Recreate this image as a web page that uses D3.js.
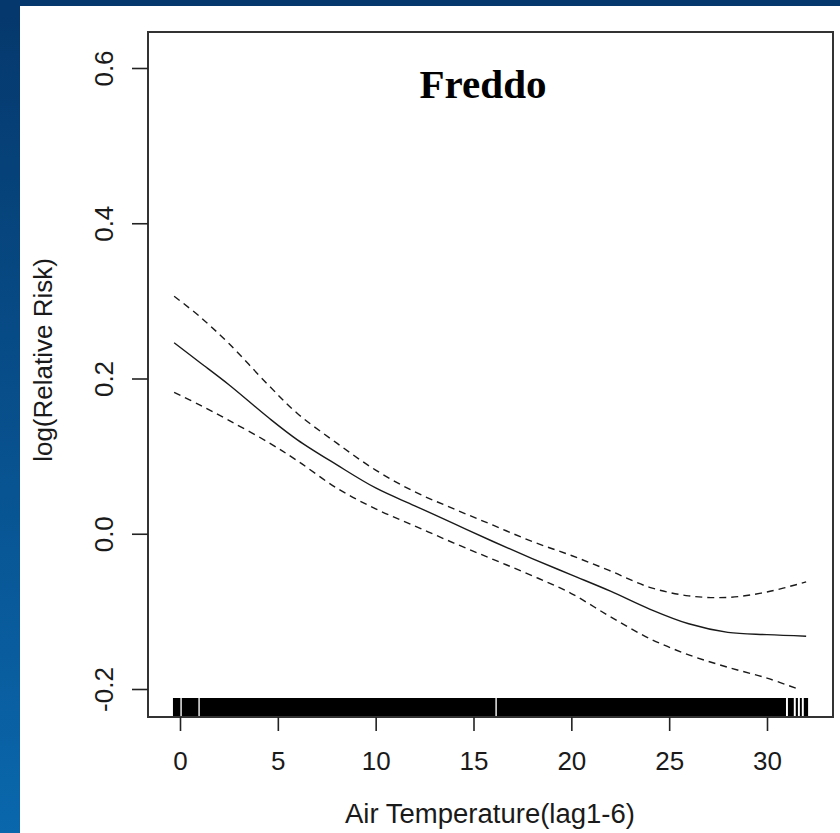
<!DOCTYPE html>
<meta charset="utf-8">
<style>
body { margin: 0; }
text { font-family: "Liberation Sans", Arial, sans-serif; fill: #1a1a1a; }
.curve { fill: none; stroke: #1a1a1a; stroke-width: 1.4px; }
.dashed { stroke-dasharray: 7,5; }
</style>
<svg width="840" height="833"></svg>
<script src="https://d3js.org/d3.v7.min.js"></script>
<script>

// smooth fit and its confidence band
var tempX  = [-0.3, 1, 2.5, 4.5, 6, 8, 10, 12, 14, 16, 18, 20, 22, 24, 26, 28, 30, 32];
var fit    = [0.246, 0.221, 0.192, 0.150, 0.121, 0.089, 0.059, 0.036, 0.013, -0.010, -0.032, -0.053, -0.074, -0.097, -0.116, -0.127, -0.130, -0.132];
var upper  = [0.306, 0.280, 0.245, 0.192, 0.155, 0.117, 0.082, 0.054, 0.032, 0.011, -0.010, -0.028, -0.048, -0.069, -0.080, -0.082, -0.075, -0.062];
var lowerX = [-0.3, 1, 2.5, 4.5, 6, 8, 10, 12, 14, 16, 18, 20, 22, 24, 26, 28, 30, 31.7];
var lower  = [0.182, 0.166, 0.146, 0.118, 0.094, 0.059, 0.032, 0.010, -0.012, -0.033, -0.054, -0.077, -0.107, -0.135, -0.156, -0.172, -0.186, -0.201];

// stretches of temperature covered by the rug (dense ticks)
var rugSpans = [[-0.36, 0.02], [0.09, 0.94], [1.01, 16.12], [16.19, 30.97],
                [31.07, 31.37], [31.47, 31.58], [31.68, 31.78], [31.88, 32.1]];

var xTicks = [0, 5, 10, 15, 20, 25, 30];
var yTicks = [-0.2, 0.0, 0.2, 0.4, 0.6];

var title = "Freddo";
var xTitle = "Air Temperature(lag1-6)";
var yTitle = "log(Relative Risk)";

var svg = d3.select("svg");

// blue slide background
var defs = svg.append("defs");
var grad = defs.append("linearGradient").attr("id", "bg")
  .attr("x1", 0).attr("y1", 0).attr("x2", 0).attr("y2", 1);
grad.append("stop").attr("offset", "0%").attr("stop-color", "#05386c");
grad.append("stop").attr("offset", "100%").attr("stop-color", "#0a67ac");
svg.append("rect").attr("width", 840).attr("height", 833).attr("fill", "url(#bg)");
svg.append("rect").attr("x", 20).attr("y", 6).attr("width", 820).attr("height", 827).attr("fill", "#fff");

var box = {left: 148, top: 32, right: 833, bottom: 717};

var x = d3.scaleLinear().domain([0, 30]).range([180, 767]);
var y = d3.scaleLinear().domain([-0.2, 0.6]).range([689, 68]);

// rug
svg.append("g").selectAll("rect").data(rugSpans).enter().append("rect")
  .attr("x", function(d) { return x(d[0]); })
  .attr("width", function(d) { return x(d[1]) - x(d[0]); })
  .attr("y", box.bottom - 19)
  .attr("height", 19)
  .attr("fill", "#000");

// curves
var line = d3.line().curve(d3.curveCatmullRom)
  .x(function(d) { return x(d[0]); })
  .y(function(d) { return y(d[1]); });

svg.append("path").attr("class", "curve")
  .attr("d", line(d3.zip(tempX, fit)));
svg.append("path").attr("class", "curve dashed")
  .attr("d", line(d3.zip(tempX, upper)));
svg.append("path").attr("class", "curve dashed")
  .attr("d", line(d3.zip(lowerX, lower)));

// frame
svg.append("rect")
  .attr("x", box.left).attr("y", box.top)
  .attr("width", box.right - box.left).attr("height", box.bottom - box.top)
  .attr("fill", "none").attr("stroke", "#333").attr("stroke-width", 2);

// x axis
var gx = svg.append("g").attr("transform", "translate(0," + box.bottom + ")")
  .call(d3.axisBottom(x).tickValues(xTicks).tickSize(14).tickFormat(d3.format("d")));
gx.select(".domain").remove();
gx.selectAll("line").attr("stroke", "#222").attr("stroke-width", 1.6);
gx.selectAll("text").attr("y", 53).attr("dy", 0)
  .style("font-size", "26px").attr("fill", "#1a1a1a");

// y axis, labels turned as in R
var gy = svg.append("g").attr("transform", "translate(" + box.left + ",0)")
  .call(d3.axisLeft(y).tickValues(yTicks).tickSize(16).tickFormat(function(d) { return d.toFixed(1); }));
gy.select(".domain").remove();
gy.selectAll("line").attr("stroke", "#222").attr("stroke-width", 1.6);
gy.selectAll("text")
  .attr("transform", "rotate(-90)")
  .attr("x", 0).attr("y", -35).attr("dy", 0)
  .attr("text-anchor", "middle")
  .style("font-size", "26px").attr("fill", "#1a1a1a");

// titles
svg.append("text").attr("x", 490).attr("y", 823)
  .attr("text-anchor", "middle").style("font-size", "27px")
  .attr("textLength", 290).attr("lengthAdjust", "spacingAndGlyphs")
  .text(xTitle);

svg.append("text").attr("transform", "translate(52,360) rotate(-90)")
  .attr("text-anchor", "middle").style("font-size", "26px").text(yTitle);

svg.append("text").attr("x", 483).attr("y", 98)
  .attr("text-anchor", "middle")
  .style("font-family", "'Liberation Serif', 'Times New Roman', serif")
  .style("font-weight", "bold").style("font-size", "39px").style("fill", "#000")
  .attr("textLength", 127).attr("lengthAdjust", "spacingAndGlyphs")
  .text(title);

</script>
